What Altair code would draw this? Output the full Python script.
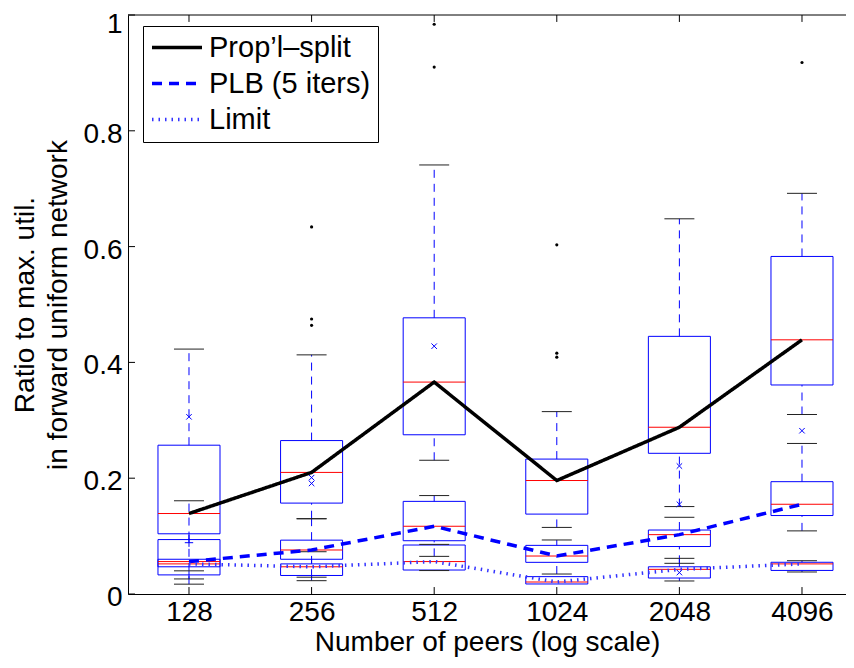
import altair as alt
import pandas as pd

# ---------------- data ----------------
peers = [128, 256, 512, 1024, 2048, 4096]
series_names = ["Prop\u2019l\u2013split", "PLB (5 iters)", "Limit"]

prop_lo = [0.040, 0.130, 0.231, 0.115, 0.151, 0.310]
prop_q1 = [0.104, 0.157, 0.275, 0.138, 0.243, 0.361]
prop_med = [0.139, 0.210, 0.366, 0.196, 0.288, 0.439]
prop_q3 = [0.257, 0.265, 0.477, 0.233, 0.445, 0.583]
prop_hi = [0.423, 0.413, 0.741, 0.315, 0.648, 0.692]

plb_lo = [0.026, 0.029, 0.065, 0.0345, 0.053, 0.109]
plb_q1 = [0.047, 0.060, 0.092, 0.0547, 0.082, 0.1355]
plb_med = [0.056, 0.076, 0.117, 0.0656, 0.1025, 0.155]
plb_q3 = [0.094, 0.093, 0.160, 0.084, 0.1105, 0.194]
plb_hi = [0.161, 0.130, 0.170, 0.0933, 0.1325, 0.260]

lim_lo = [0.017, 0.023, 0.0405, 0.0173, 0.0225, 0.038]
lim_q1 = [0.033, 0.032, 0.0414, 0.0173, 0.0276, 0.0407]
lim_med = [0.052, 0.047, 0.056, 0.0207, 0.0426, 0.052]
lim_q3 = [0.060, 0.052, 0.0846, 0.030, 0.047, 0.0548]
lim_hi = [0.060, 0.073, 0.0857, 0.030, 0.0616, 0.0575]

outlier_peers = [256, 256, 256, 512, 512, 1024, 1024, 1024, 4096]
outlier_vals = [0.634, 0.475, 0.464, 0.984, 0.910, 0.603, 0.416, 0.409, 0.918]

xmark_peers = [128, 256, 256, 512, 2048, 2048, 2048, 4096]
xmark_vals = [0.306, 0.201, 0.191, 0.428, 0.221, 0.155, 0.037, 0.282]

plus_peers = [128]
plus_vals = [0.0886]

y_ticks = [0, 0.2, 0.4, 0.6, 0.8, 1]

# ---------------- tables ----------------
rows = []
for name, lo, q1, med, q3, hi in [
    (series_names[0], prop_lo, prop_q1, prop_med, prop_q3, prop_hi),
    (series_names[1], plb_lo, plb_q1, plb_med, plb_q3, plb_hi),
    (series_names[2], lim_lo, lim_q1, lim_med, lim_q3, lim_hi),
]:
    for i, p in enumerate(peers):
        rows.append(dict(series=name, peers=p, lo=lo[i], q1=q1[i], med=med[i], q3=q3[i], hi=hi[i]))
df = pd.DataFrame(rows)
df_out = pd.DataFrame({"peers": outlier_peers, "v": outlier_vals})
df_x = pd.DataFrame({"peers": xmark_peers, "v": xmark_vals})
df_plus = pd.DataFrame({"peers": plus_peers, "v": plus_vals})
df_peers = pd.DataFrame({"peers": peers})
df_yt = pd.DataFrame({"v": y_ticks})

FONT = "Liberation Sans"
BOXF = 2 ** 0.253
CAPF = 2 ** 0.1223

xs = alt.Scale(type="log", base=2, domain=[2 ** 6.5025, 2 ** 12.359], nice=False)
ys = alt.Scale(domain=[0, 1], nice=False, zero=False)

XAX = alt.Axis(
    values=peers, format="d", title="Number of peers (log scale)",
    labelFontSize=28, titleFontSize=28, labelFont=FONT, titleFont=FONT,
    titleFontWeight="normal", ticks=False, grid=False, domainColor="black",
    labelColor="black", titleColor="black", labelPadding=4, titlePadding=2,
    domainWidth=1)
YAX = alt.Axis(
    values=y_ticks, format="~g",
    title=["Ratio to max. util.", "in forward uniform network"],
    labelFontSize=28, titleFontSize=28, labelFont=FONT, titleFont=FONT,
    titleFontWeight="normal", ticks=False, grid=False, domainColor="black",
    labelColor="black", titleColor="black", labelPadding=6, titlePadding=11,
    titleLineHeight=33, domainWidth=1,
    labelOffset={"condition": {"test": "datum.value === 1", "value": 9}, "value": 3.5})


def X(f):
    return alt.X(f, scale=xs, axis=XAX)


def Y(f):
    return alt.Y(f, scale=ys, axis=YAX)


base = alt.Chart(df).transform_calculate(
    xl=f"datum.peers / {BOXF}", xr=f"datum.peers * {BOXF}",
    cl=f"datum.peers / {CAPF}", cr=f"datum.peers * {CAPF}",
)

boxes = base.mark_rect(filled=False, stroke="#0000ff", strokeWidth=1).encode(
    x=X("xl:Q"), x2="xr:Q", y=Y("q1:Q"), y2="q3:Q")

whisk_hi = base.transform_filter("datum.hi > datum.q3").mark_rule(
    color="#0000ff", strokeWidth=1, strokeDash=[8, 6]).encode(
    x=X("peers:Q"), y=Y("q3:Q"), y2="hi:Q")
whisk_lo = base.transform_filter("datum.lo < datum.q1").mark_rule(
    color="#0000ff", strokeWidth=1, strokeDash=[8, 6]).encode(
    x=X("peers:Q"), y=Y("lo:Q"), y2="q1:Q")
cap_hi = base.transform_filter("datum.hi > datum.q3").mark_rule(color="#222", strokeWidth=1).encode(
    x=X("cl:Q"), x2="cr:Q", y=Y("hi:Q"))
cap_lo = base.transform_filter("datum.lo < datum.q1").mark_rule(color="#222", strokeWidth=1).encode(
    x=X("cl:Q"), x2="cr:Q", y=Y("lo:Q"))
medians = base.mark_rule(color="#ff0000", strokeWidth=1).encode(
    x=X("xl:Q"), x2="xr:Q", y=Y("med:Q"))

outl = alt.Chart(df_out).mark_point(filled=True, color="black", size=10, opacity=1).encode(
    x=X("peers:Q"), y=Y("v:Q"))
xmk = alt.Chart(df_x).mark_point(shape="M-1,-1L1,1M-1,1L1,-1", filled=False, color="#0000ff",
                                 size=30, strokeWidth=1, opacity=1).encode(
    x=X("peers:Q"), y=Y("v:Q"))
plus = alt.Chart(df_plus).mark_point(shape="M-1,0L1,0M0,-1L0,1", filled=False, color="#0000ff",
                                     size=70, strokeWidth=1, opacity=1).encode(
    x=X("peers:Q"), y=Y("v:Q"))

lines = alt.Chart(df).mark_line().encode(
    x=X("peers:Q"),
    y=Y("med:Q"),
    color=alt.Color("series:N", sort=series_names,
                    scale=alt.Scale(domain=series_names, range=["black", "#0000ff", "#3333ff"]),
                    legend=alt.Legend(title=None)),
    strokeDash=alt.StrokeDash("series:N", sort=series_names,
                              scale=alt.Scale(domain=series_names, range=[[1, 0], [10, 7], [1.5, 5]]),
                              legend=alt.Legend(title=None)),
    strokeWidth=alt.StrokeWidth("series:N", sort=series_names,
                                scale=alt.Scale(domain=series_names, range=[3.5, 3.5, 1.5]),
                                legend=alt.Legend(title=None)),
)

# inward tick marks and top frame line (MATLAB style)
tick_b = alt.Chart(df_peers).mark_rule(color="black", strokeWidth=1).encode(
    x=X("peers:Q"), y=alt.datum(0), y2=alt.datum(0.012))
tick_t = alt.Chart(df_peers).mark_rule(color="black", strokeWidth=1).encode(
    x=X("peers:Q"), y=alt.datum(1), y2=alt.datum(0.988))
tick_l = alt.Chart(df_yt).mark_rule(color="black", strokeWidth=1).encode(
    y=Y("v:Q"), x=alt.value(0), x2=alt.value(7))
top_line = alt.Chart(pd.DataFrame({"v": [1]})).mark_rule(color="black", strokeWidth=1).encode(
    y=Y("v:Q"))

chart = alt.layer(
    boxes, whisk_hi, whisk_lo, cap_hi, cap_lo, medians, outl, xmk, plus,
    lines, tick_b, tick_t, tick_l, top_line
).properties(
    width=718, height=579,
    autosize=alt.AutoSizeParams(type="none"),
    padding={"left": 120, "top": 7, "right": 0, "bottom": 64},
).configure_view(stroke=None).configure_legend(
    orient="none", legendX=15, legendY=11,
    strokeColor="black", fillColor="white", padding=7, cornerRadius=0,
    labelFontSize=29, labelFont=FONT, labelColor="black",
    symbolType="stroke", symbolSize=2500, labelOffset=5, rowPadding=6,
    clipHeight=29, labelLimit=400,
)

chart.save("out.html", embed_options={"renderer": "svg", "actions": False})
